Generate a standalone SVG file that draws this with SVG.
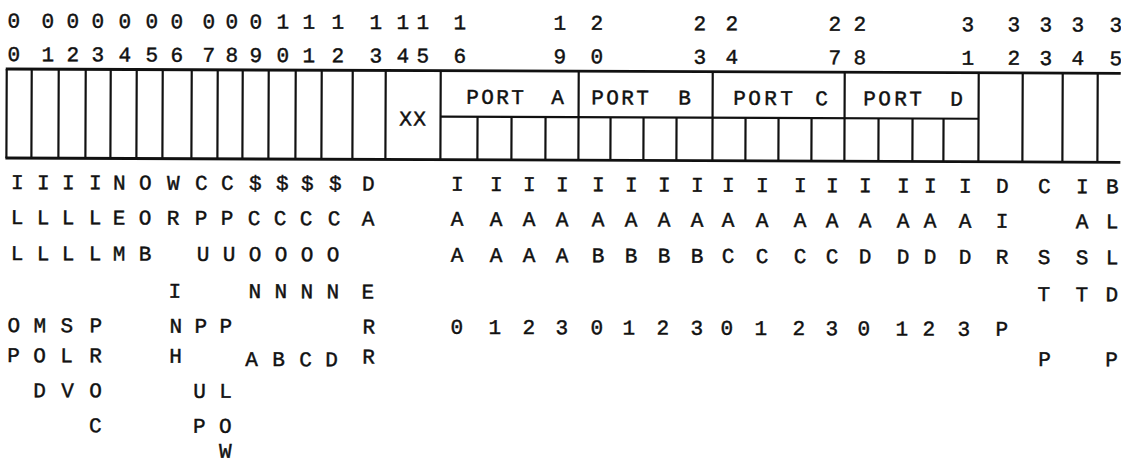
<svg xmlns="http://www.w3.org/2000/svg" width="1121" height="464" viewBox="0 0 1121 464">
<style>
.t{font-family:"Liberation Mono","DejaVu Sans Mono",monospace;font-size:21px;fill:#111;stroke:#111;stroke-width:0.45;text-anchor:middle}
.ln{stroke:#111;stroke-width:2.2;fill:none}
.bd{stroke:#111;stroke-width:2.8;fill:none}
</style>
<rect width="1121" height="464" fill="#fff"/>
<g transform="rotate(0.22)">
<g id="bit-numbers" class="t">
<text x="14 48 73 98 125 152 177 209 232 256 283 309 338 376 403 423 460 560 597 700 732 835 860 968 1014 1046 1078 1116" y="27.5">0000000000111111112222233333</text>
<text x="14 48 73 98 125 152 177 209 232 256 283 309 338 376 403 423 460 560 597 700 732 835 860 968 1014 1046 1078 1116" y="61">0123456789012345690347812345</text>
</g>
<g id="register">
<line class="bd" x1="6" y1="69" x2="1121" y2="69"/>
<line class="bd" x1="6" y1="158" x2="1121" y2="158"/>
<line class="ln" x1="441" y1="115" x2="979" y2="115"/>
<path class="ln" d="M7 69V158M32 69V158M59 69V158M86 69V158M111 69V158M137 69V158M163 69V158M192 69V158M218 69V158M243 69V158M269 69V158M296 69V158M322 69V158M353 69V158M386 69V158M441 69V158M579 69V158M713 69V158M845 69V158M979 69V158M1023 69V158M1063 69V158M1098 69V158"/>
<path class="ln" d="M478 115V158M512 115V158M546 115V158M611 115V158M644 115V158M677 115V158M746 115V158M779 115V158M812 115V158M879 115V158M913 115V158M944 115V158"/>
<text class="t" x="406 420" y="124">XX</text>
<text class="t" x="473 488 503 518 538 558" y="102">PORT A</text>
<text class="t" x="598 613 628 643 664 685" y="102">PORT B</text>
<text class="t" x="740 755 771 787 805 822" y="102">PORT C</text>
<text class="t" x="870 885 901 916 936 957" y="102">PORT D</text>
</g>
<g id="labels" class="t">
<text id="b0"><tspan x="18" y="189">I</tspan><tspan x="18" y="224">L</tspan><tspan x="18" y="260">L</tspan><tspan x="15" y="332">O</tspan><tspan x="15" y="362">P</tspan></text>
<text id="b1"><tspan x="44" y="189">I</tspan><tspan x="44" y="224">L</tspan><tspan x="44" y="260">L</tspan><tspan x="41" y="332">M</tspan><tspan x="41" y="362">O</tspan><tspan x="41" y="397">D</tspan></text>
<text id="b2"><tspan x="69" y="189">I</tspan><tspan x="69" y="224">L</tspan><tspan x="69" y="260">L</tspan><tspan x="68" y="332">S</tspan><tspan x="68" y="362">L</tspan><tspan x="69" y="397">V</tspan></text>
<text id="b3"><tspan x="96" y="189">I</tspan><tspan x="96" y="224">L</tspan><tspan x="96" y="260">L</tspan><tspan x="97" y="332">P</tspan><tspan x="97" y="362">R</tspan><tspan x="97" y="397">O</tspan><tspan x="97" y="432">C</tspan></text>
<text id="b4"><tspan x="120" y="189">N</tspan><tspan x="120" y="224">E</tspan><tspan x="120" y="260">M</tspan></text>
<text id="b5"><tspan x="146" y="189">O</tspan><tspan x="146" y="224">O</tspan><tspan x="146" y="260">B</tspan></text>
<text id="b6"><tspan x="174" y="189">W</tspan><tspan x="174" y="224">R</tspan><tspan x="176" y="297">I</tspan><tspan x="177" y="332">N</tspan><tspan x="177" y="362">H</tspan></text>
<text id="b7"><tspan x="202" y="189">C</tspan><tspan x="202" y="224">P</tspan><tspan x="204" y="260">U</tspan><tspan x="202" y="332">P</tspan><tspan x="201" y="397">U</tspan><tspan x="201" y="432">P</tspan></text>
<text id="b8"><tspan x="228" y="189">C</tspan><tspan x="228" y="224">P</tspan><tspan x="230" y="260">U</tspan><tspan x="227" y="332">P</tspan><tspan x="227" y="397">L</tspan><tspan x="227" y="432">O</tspan><tspan x="227" y="457">W</tspan></text>
<text id="b9"><tspan x="256" y="189">$</tspan><tspan x="255" y="224">C</tspan><tspan x="256" y="260">O</tspan><tspan x="256" y="297">N</tspan><tspan x="253" y="365">A</tspan></text>
<text id="b10"><tspan x="283" y="189">$</tspan><tspan x="281" y="224">C</tspan><tspan x="282" y="260">O</tspan><tspan x="282" y="297">N</tspan><tspan x="280" y="365">B</tspan></text>
<text id="b11"><tspan x="308" y="189">$</tspan><tspan x="307" y="224">C</tspan><tspan x="308" y="260">O</tspan><tspan x="308" y="297">N</tspan><tspan x="307" y="365">C</tspan></text>
<text id="b12"><tspan x="336" y="189">$</tspan><tspan x="335" y="224">C</tspan><tspan x="334" y="260">O</tspan><tspan x="334" y="297">N</tspan><tspan x="333" y="365">D</tspan></text>
<text id="b13"><tspan x="369" y="189">D</tspan><tspan x="369" y="224">A</tspan><tspan x="369" y="297">E</tspan><tspan x="370" y="332">R</tspan><tspan x="370" y="362">R</tspan></text>
<text id="ports-r1" x="458 497 530 563 599 632 665 698 729 763 801 833 866 904 931 966" y="189">IIIIIIIIIIIIIIII</text>
<text id="ports-r2" x="458 497 530 563 599 632 665 698 729 763 801 833 866 904 931 966" y="224">AAAAAAAAAAAAAAAA</text>
<text id="ports-r3" x="458 497 530 563 599 632 665 698 729 763 801 833 866 904 931 966" y="260">AAAABBBBCCCCDDDD</text>
<text id="ports-r5" x="458 496 530 563 598 630 664 698 728 762 800 833 865 903 930 965" y="332">0123012301230123</text>
<text id="b32"><tspan x="1003" y="189">D</tspan><tspan x="1003" y="224">I</tspan><tspan x="1003" y="260">R</tspan><tspan x="1003" y="332">P</tspan></text>
<text id="b33"><tspan x="1045" y="189">C</tspan><tspan x="1045" y="260">S</tspan><tspan x="1045" y="297">T</tspan><tspan x="1046" y="362">P</tspan></text>
<text id="b34"><tspan x="1083" y="189">I</tspan><tspan x="1083" y="224">A</tspan><tspan x="1083" y="260">S</tspan><tspan x="1083" y="297">T</tspan></text>
<text id="b35"><tspan x="1113" y="189">B</tspan><tspan x="1113" y="224">L</tspan><tspan x="1113" y="260">L</tspan><tspan x="1113" y="297">D</tspan><tspan x="1113" y="362">P</tspan></text>
</g>
</g>
</svg>
